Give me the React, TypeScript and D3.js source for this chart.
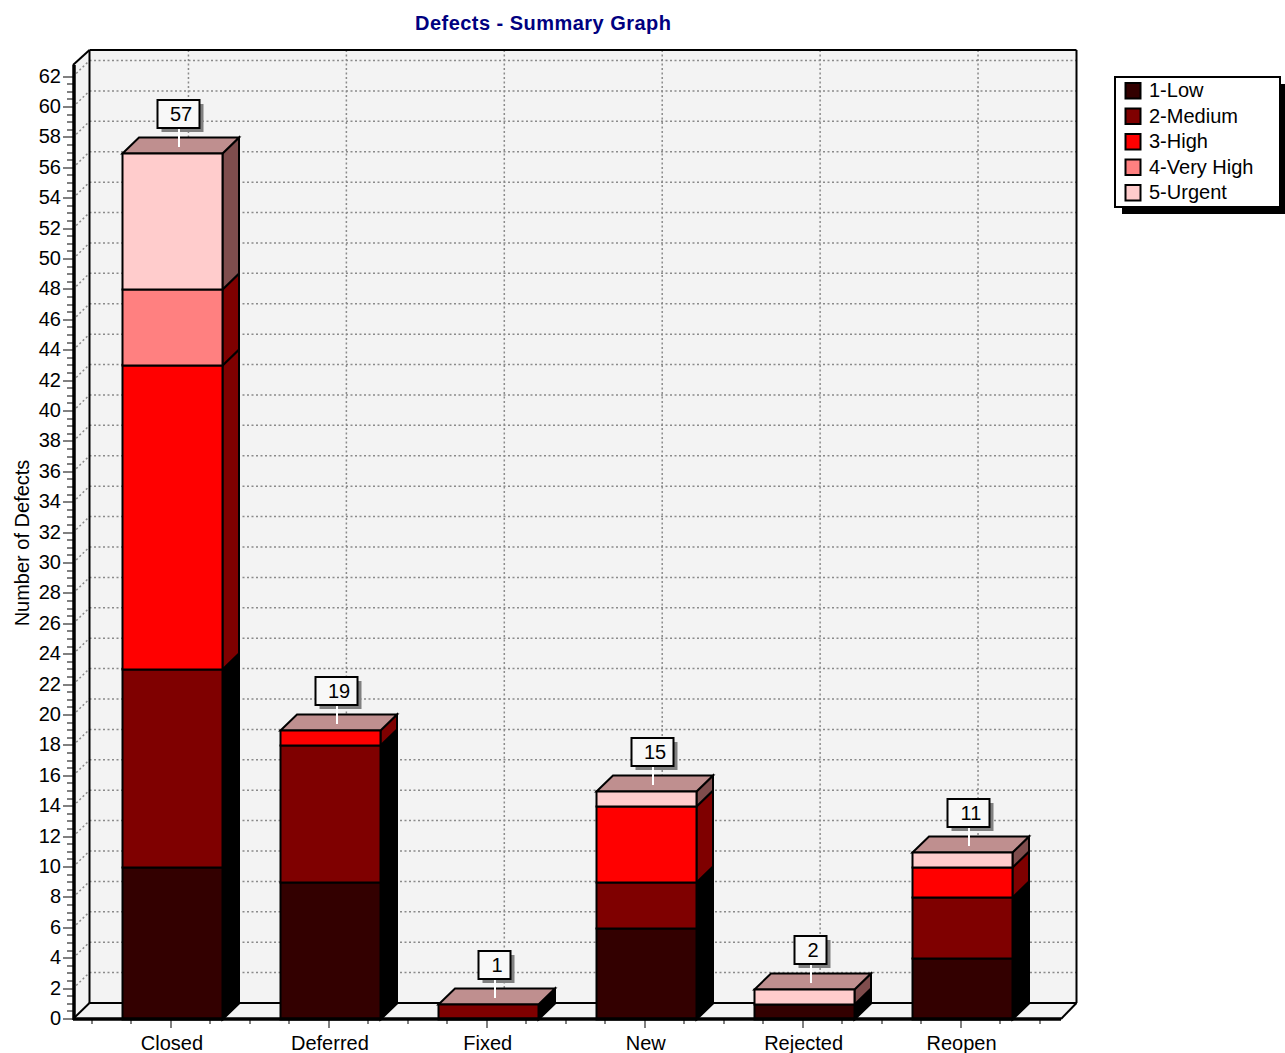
import React from "react";
import * as d3 from "d3";

const categories = ["Closed", "Deferred", "Fixed", "New", "Rejected", "Reopen"];
const seriesNames = ["1-Low", "2-Medium", "3-High", "4-Very High", "5-Urgent"];
const low = [10, 9, 0, 6, 1, 4];
const medium = [13, 9, 1, 3, 0, 4];
const high = [20, 1, 0, 5, 0, 2];
const veryHigh = [5, 0, 0, 0, 0, 0];
const urgent = [9, 0, 0, 1, 1, 1];
const seriesValues = [low, medium, high, veryHigh, urgent];
const totalLabels = ["57", "19", "1", "15", "2", "11"];
const frontColors = ["#330000", "#7f0000", "#ff0000", "#ff8080", "#ffcccc"];
const sideColors = ["#000000", "#000000", "#7f0000", "#7f0000", "#7f4d4d"];
const topColor = "#bf8f8f";

const W = 1285, H = 1053;
const DX = 16.5, DY = 16;
const font = "'Liberation Sans', Arial, sans-serif";

export default function App() {
  const y = d3.scaleLinear().domain([0, 62.76]).range([1019, 65]);
  const x = d3.scaleBand<string>().domain(categories).range([93.5, 1041]).padding(0);
  const left = 73, right = 1061, bottom = y(0), top = y.range()[1];
  const majors = d3.range(0, 63, 2);
  const minors = d3.range(0, 62.5, 0.5).filter((v) => v % 2 !== 0);
  const xTickCount = categories.length * 4;
  const rows = categories.map((c, i) => Object.fromEntries([["cat", c], ...seriesNames.map((s, k) => [s, seriesValues[k][i]])]));
  const stacked = d3.stack<any>().keys(seriesNames)(rows);
  const barW = 100;
  const poly = (pts: number[][]) => d3.line()(pts as any) + "Z";
  const by = (v: number) => Math.round(y(v)) + 0.5;

  return (
    <svg width={W} height={H} viewBox={`0 0 ${W} ${H}`} style={{ position: "absolute", left: 0, top: 0, display: "block", background: "#fff", fontFamily: font }}>
      <text x={415} y={30} fontSize={20} fontWeight="bold" fill="#000080" textLength={256} lengthAdjust="spacing">Defects - Summary Graph</text>

      {/* walls */}
      <path d={poly([[left, top], [left + DX, top - DY + 1], [right + DX - 1, top - DY + 1], [right + DX - 1, bottom - DY], [right, bottom], [left, bottom]])} fill="#f3f3f3" />
      {/* grid */}
      <g stroke="#8a8a8a" strokeWidth={1.5} strokeDasharray="2 2.5" fill="none">
        {majors.filter((v) => v > 0).map((v) => (
          <g key={v}>
            <line x1={left + DX} x2={right + DX - 1} y1={y(v) - DY} y2={y(v) - DY} />
            <line x1={left} x2={left + DX} y1={y(v)} y2={y(v) - DY} />
          </g>
        ))}
        {categories.map((c) => {
          const cx = x(c)! + x.bandwidth() / 2 + DX - 0.5;
          return <line key={c} x1={cx} x2={cx} y1={top - DY + 1} y2={bottom - DY} />;
        })}
      </g>
      {/* wall outlines */}
      <g stroke="#000" strokeWidth={2} fill="none">
        <line x1={left + DX} x2={left + DX} y1={top - DY + 1} y2={bottom - DY} />
        <line x1={left + DX} x2={right + DX - 1} y1={top - DY + 1} y2={top - DY + 1} />
        <line x1={right + DX - 1} x2={right + DX - 1} y1={top - DY + 1} y2={bottom - DY} />
        <line x1={left + DX} x2={right + DX - 1} y1={bottom - DY} y2={bottom - DY} />
        <line x1={left} x2={left + DX} y1={top} y2={top - DY + 1} />
        <line x1={left} x2={left + DX} y1={bottom} y2={bottom - DY} />
        <line x1={right} x2={right + DX - 1} y1={bottom} y2={bottom - DY} />
      </g>

      {/* y axis ticks */}
      <g stroke="#808080" strokeWidth={2}>
        {majors.map((v) => <line key={v} x1={63} x2={left} y1={Math.round(y(v))} y2={Math.round(y(v))} />)}
        {minors.map((v) => <line key={v} x1={67} x2={left} y1={Math.round(y(v))} y2={Math.round(y(v))} />)}
      </g>
      {/* x axis ticks */}
      <g stroke="#808080" strokeWidth={2}>
        {d3.range(0, xTickCount + 1).map((k) => {
          const tx = Math.round(93 + (k * x.bandwidth()) / 4 - 1);
          return <line key={k} x1={tx} x2={tx} y1={bottom} y2={k % 4 === 2 ? bottom + 9 : bottom + 5} />;
        })}
      </g>

      {/* bars */}
      {categories.map((c, i) => {
        const bx = Math.round(x(c)! + x.bandwidth() / 2 - barW / 2) + 0.5;
        const segs = stacked.map((s, k) => ({ k, y0: s[i][0], y1: s[i][1] })).filter((s) => s.y1 > s.y0);
        const total = segs[segs.length - 1].y1;
        const yt = by(total);
        return (
          <g key={c} stroke="#000" strokeWidth={2} strokeLinejoin="miter">
            {segs.map((s) => (
              <path key={"side" + s.k} fill={sideColors[s.k]}
                d={poly([[bx + barW, by(s.y0)], [bx + barW + DX, by(s.y0) - DY], [bx + barW + DX, by(s.y1) - DY], [bx + barW, by(s.y1)]])} />
            ))}
            <path fill={topColor} d={poly([[bx, yt], [bx + DX, yt - DY], [bx + barW + DX, yt - DY], [bx + barW, yt]])} />
            {segs.map((s) => (
              <rect key={"front" + s.k} x={bx} y={by(s.y1)} width={barW} height={by(s.y0) - by(s.y1)} fill={frontColors[s.k]} />
            ))}
          </g>
        );
      })}
      <line x1={left} x2={right} y1={bottom} y2={bottom} stroke="#000" strokeWidth={3.5} />
      <line x1={left + 1} x2={left + 1} y1={top} y2={bottom + 1} stroke="#000" strokeWidth={3.5} />

      {/* total labels */}
      {categories.map((c, i) => {
        const cx = x(c)! + x.bandwidth() / 2;
        const pin = Math.round(cx + 7);
        const yt = by(d3.sum(seriesValues, (s) => s[i])) - 0.5;
        const label = totalLabels[i];
        const two = label.length > 1;
        const bl = pin - (two ? 22 : 17) + 0.5;
        const bw = two ? 42 : 32;
        return (
          <g key={c}>
            <rect x={bl + 4} y={yt - 49} width={bw} height={28} fill="#808080" />
            <line x1={pin} x2={pin} y1={yt - 25} y2={yt - 6} stroke="#fff" strokeWidth={2} />
            <rect x={bl} y={yt - 53} width={bw} height={28} fill="#f8f8f8" stroke="#000" strokeWidth={2} />
            <text x={pin + 2} y={yt - 32} textAnchor="middle" fontSize={20} fill="#000">{label}</text>
          </g>
        );
      })}

      {/* tick labels */}
      {majors.map((v) => (
        <text key={v} x={61} y={y(v) + 6} textAnchor="end" fontSize={20} fill="#000">{v}</text>
      ))}
      {categories.map((c) => (
        <text key={c} x={x(c)! + x.bandwidth() / 2 - 0.5} y={1050} textAnchor="middle" fontSize={20} fill="#000">{c}</text>
      ))}
      <text transform="translate(29,543) rotate(-90)" textAnchor="middle" fontSize={20} fill="#000">Number of Defects</text>

      {/* legend */}
      <rect x={1122} y={84} width={170} height={130} fill="#000" />
      <rect x={1115} y={77} width={165} height={130} fill="#fff" stroke="#000" strokeWidth={2} />
      {seriesNames.map((s, k) => (
        <g key={s}>
          <rect x={1125.5} y={83 + k * 25.5} width={15} height={15.5} fill={frontColors[k]} stroke="#000" strokeWidth={2} />
          <text x={1149} y={97 + k * 25.5} fontSize={20} fill="#000">{s}</text>
        </g>
      ))}
    </svg>
  );
}
